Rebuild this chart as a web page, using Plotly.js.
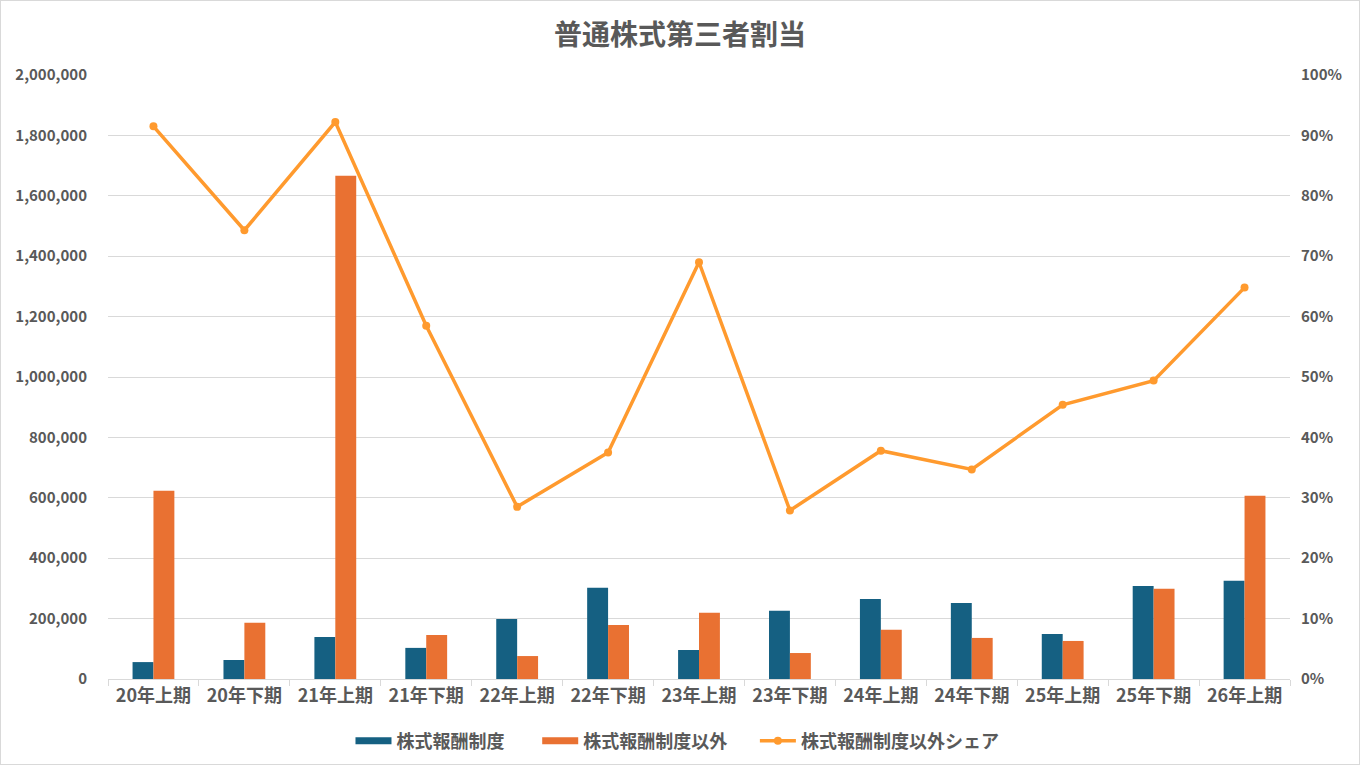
<!DOCTYPE html>
<html>
<head>
<meta charset="utf-8">
<script src="https://cdn.plot.ly/plotly-3.0.1.min.js"></script>
<style>
  body { margin: 0; background: #fff; }
  #plot { width: 1358px; height: 763px; border: 1px solid #d9d9d9; }
</style>
</head>
<body>
<div id="plot"></div>
<script>
var categories = ['20年上期', '20年下期', '21年上期', '21年下期', '22年上期', '22年下期', '23年上期',
   '23年下期', '24年上期', '24年下期', '25年上期', '25年下期', '26年上期']
var stock_comp = [56000, 63000, 139000, 103000, 199000, 302000, 96000, 226000, 265000, 252000, 149000, 308000, 325000]
var non_stock_comp = [623000, 186000, 1666000, 146000, 76000, 179000, 219000, 86000, 163000, 136000, 126000, 299000, 607000]
var non_stock_share = [0.915, 0.743, 0.922, 0.585, 0.285, 0.375, 0.690, 0.279, 0.378, 0.347, 0.454, 0.494, 0.648]

var font_family = '"Noto Sans CJK JP", "Noto Sans", sans-serif'
var text_color = '#595959'
var blue = '#156082'
var orange = '#E97132'
var line_orange = '#FF9A2E'

var blue_trace = {
   name: '株式報酬制度',
   type: 'bar',
   x: categories,
   y: stock_comp,
   marker: {color: blue},
   showlegend: false,
   yaxis: 'y'
}
var orange_trace = {
   name: '株式報酬制度以外',
   type: 'bar',
   x: categories,
   y: non_stock_comp,
   marker: {color: orange},
   showlegend: false,
   yaxis: 'y'
}
var share_trace = {
   name: '株式報酬制度以外シェア',
   type: 'scatter',
   mode: 'lines+markers',
   x: categories,
   y: non_stock_share,
   line: {color: line_orange, width: 3.5},
   marker: {color: line_orange, size: 8},
   legend: 'legend3',
   yaxis: 'y2'
}
// legend-only entries so the bar swatches are wide flat blocks like the original
var blue_legend = {
   name: '株式報酬制度',
   type: 'scatter',
   mode: 'lines',
   x: [null],
   y: [null],
   line: {color: blue, width: 7},
   legend: 'legend',
   hoverinfo: 'skip'
}
var orange_legend = {
   name: '株式報酬制度以外',
   type: 'scatter',
   mode: 'lines',
   x: [null],
   y: [null],
   line: {color: orange, width: 7},
   legend: 'legend2',
   hoverinfo: 'skip'
}

function legend_at(x) {
   return {
      orientation: 'h',
      x: x,
      xanchor: 'left',
      xref: 'container',
      y: 0.03,
      yanchor: 'middle',
      yref: 'container',
      font: {family: font_family, size: 18, color: text_color, weight: 'bold'},
      itemwidth: 36,
      bgcolor: 'rgba(0,0,0,0)'
   }
}

var layout = {
   title: {
      text: '普通株式第三者割当',
      font: {family: font_family, size: 28, color: text_color, weight: 'bold'},
      x: 0.5,
      xanchor: 'center',
      y: 0.955,
      yanchor: 'middle',
      automargin: false
   },
   margin: {l: 107, r: 69, t: 74, b: 85, autoexpand: false},
   paper_bgcolor: '#ffffff',
   plot_bgcolor: '#ffffff',
   barmode: 'group',
   bargap: 0.54,
   bargroupgap: 0,
   showlegend: true,
   legend: legend_at(350 / 1360),
   legend2: legend_at(537 / 1360),
   legend3: legend_at(755 / 1360),
   xaxis: {
      type: 'category',
      range: [-0.5, 12.5],
      automargin: false,
      showgrid: false,
      showline: true,
      linecolor: '#d9d9d9',
      linewidth: 1,
      ticks: 'outside',
      ticklen: 6,
      tickcolor: '#d9d9d9',
      tickson: 'boundaries',
      tickfont: {family: font_family, size: 18, color: text_color, weight: 'bold'},
      fixedrange: true
   },
   yaxis: {
      range: [0, 2000000],
      dtick: 200000,
      tickformat: ',d',
      automargin: false,
      showgrid: true,
      gridcolor: '#d9d9d9',
      gridwidth: 1,
      zeroline: false,
      showline: false,
      ticks: '',
      ticklabelstandoff: 20,
      tickfont: {family: font_family, size: 15, color: text_color, weight: 'bold'},
      fixedrange: true
   },
   yaxis2: {
      overlaying: 'y',
      side: 'right',
      range: [0, 1],
      dtick: 0.1,
      tickformat: '.0%',
      automargin: false,
      showgrid: false,
      zeroline: false,
      showline: false,
      ticks: '',
      ticklabelstandoff: 10,
      tickfont: {family: font_family, size: 15, color: text_color, weight: 'bold'},
      fixedrange: true
   }
}

Plotly.newPlot('plot', [blue_trace, orange_trace, blue_legend, orange_legend, share_trace], layout, {displayModeBar: false, staticPlot: true})
</script>
</body>
</html>
